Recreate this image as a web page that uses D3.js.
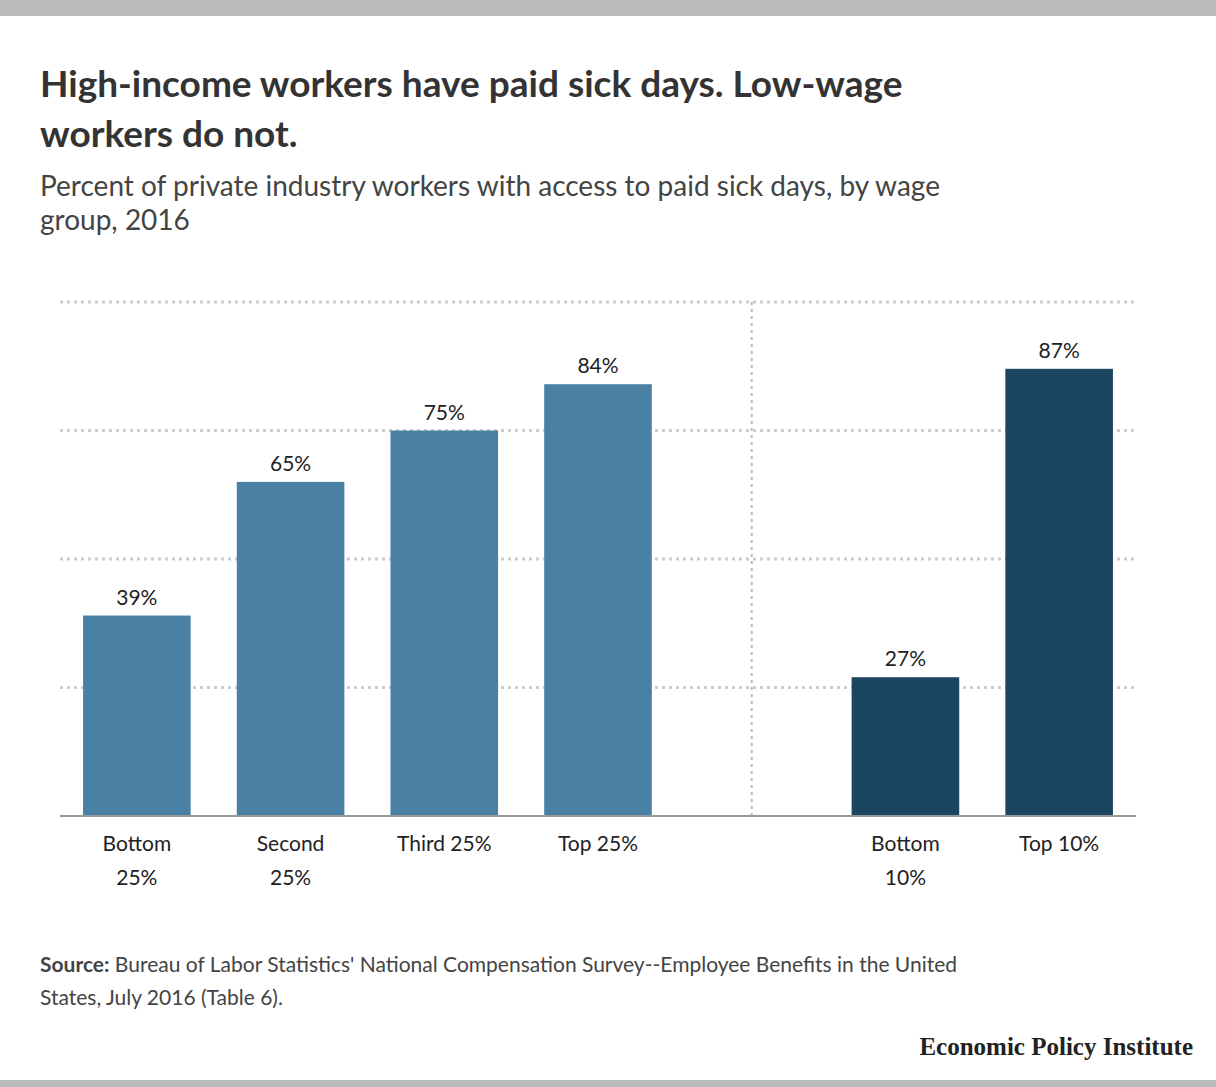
<!DOCTYPE html>
<html><head><meta charset="utf-8">
<script src="https://cdn.jsdelivr.net/npm/d3@7"></script>
<style>body{margin:0;background:#fff}text{font-family:Lato,"Open Sans",sans-serif}</style>
</head><body><svg id="chart" width="1216" height="1087"></svg>
<script>
const categories = ["Bottom 25%", "Second 25%", "Third 25%", "Top 25%", "", "Bottom 10%", "Top 10%"];
const labelLines = [["Bottom", "25%"], ["Second", "25%"], ["Third 25%"], ["Top 25%"], [], ["Bottom", "10%"], ["Top 10%"]];
const values = [39, 65, 75, 84, null, 27, 87];
const groups = ["quartile", "quartile", "quartile", "quartile", null, "decile", "decile"];
const ticks = [25, 50, 75, 100];
const colors = {quartile: "#4a80a3", decile: "#1b4560"};

const svg = d3.select("#chart");
svg.append("rect").attr("width", 1216).attr("height", 16).attr("fill", "#bbb");
svg.append("rect").attr("y", 1080).attr("width", 1216).attr("height", 7).attr("fill", "#bbb");

svg.append("text").attr("x", 40).attr("y", 97).attr("font-size", 37).attr("font-weight", 700).attr("fill", "#333")
    .text("High-income workers have paid sick days. Low-wage");
svg.append("text").attr("x", 40).attr("y", 147).attr("font-size", 37).attr("font-weight", 700).attr("fill", "#333")
    .text("workers do not.");
svg.append("text").attr("x", 40).attr("y", 196).attr("font-size", 28).attr("fill", "#444")
    .text("Percent of private industry workers with access to paid sick days, by wage");
svg.append("text").attr("x", 40).attr("y", 230).attr("font-size", 28).attr("fill", "#444").text("group, 2016");

const x = d3.scaleBand().domain(categories.map((c, i) => i)).range([60, 1136]).paddingInner(0.3).paddingOuter(0.15);
const y = d3.scaleLinear().domain([0, 100]).range([816, 302]);

// gridlines
svg.append("g").selectAll("line").data(ticks).join("line")
    .attr("x1", 60).attr("x2", 1136).attr("y1", d => y(d)).attr("y2", d => y(d))
    .attr("stroke", "#ccc").attr("stroke-width", 3).attr("stroke-dasharray", "3,4");

// divider
const mid = x(4) + x.bandwidth() / 2;
svg.append("line").attr("x1", mid).attr("x2", mid).attr("y1", y(100)).attr("y2", y(0))
    .attr("stroke", "#bbb").attr("stroke-width", 2).attr("stroke-dasharray", "3,4");

const data = values.map((v, i) => ({i, v, g: groups[i]})).filter(d => d.v !== null);
svg.append("g").selectAll("rect").data(data).join("rect")
    .attr("x", d => x(d.i)).attr("width", x.bandwidth())
    .attr("y", d => y(d.v)).attr("height", d => y(0) - y(d.v))
    .attr("fill", d => colors[d.g]);
svg.append("g").selectAll("text").data(data).join("text")
    .attr("x", d => x(d.i) + x.bandwidth() / 2).attr("y", d => y(d.v) - 11)
    .attr("text-anchor", "middle").attr("font-size", 21).attr("fill", "#222")
    .text(d => d.v + "%");

svg.append("line").attr("x1", 60).attr("x2", 1136).attr("y1", y(0)).attr("y2", y(0))
    .attr("stroke", "#999").attr("stroke-width", 2);

labelLines.forEach((lines, i) => {
    lines.forEach((t, j) => {
        svg.append("text").attr("x", x(i) + x.bandwidth() / 2).attr("y", 851 + j * 34)
            .attr("text-anchor", "middle").attr("font-size", 21).attr("fill", "#222").text(t);
    });
});

const src = svg.append("text").attr("x", 40).attr("y", 972).attr("font-size", 21).attr("fill", "#444");
src.append("tspan").attr("font-weight", 700).text("Source:");
src.append("tspan").text(" Bureau of Labor Statistics' National Compensation Survey--Employee Benefits in the United");
svg.append("text").attr("x", 40).attr("y", 1005).attr("font-size", 21).attr("fill", "#444")
    .text("States, July 2016 (Table 6).");

svg.append("text").attr("x", 1193).attr("y", 1055).attr("text-anchor", "end")
    .style("font-family", "'Liberation Serif','DejaVu Serif',serif").attr("font-size", 25).attr("font-weight", 700)
    .attr("fill", "#222").text("Economic Policy Institute");
</script></body></html>
